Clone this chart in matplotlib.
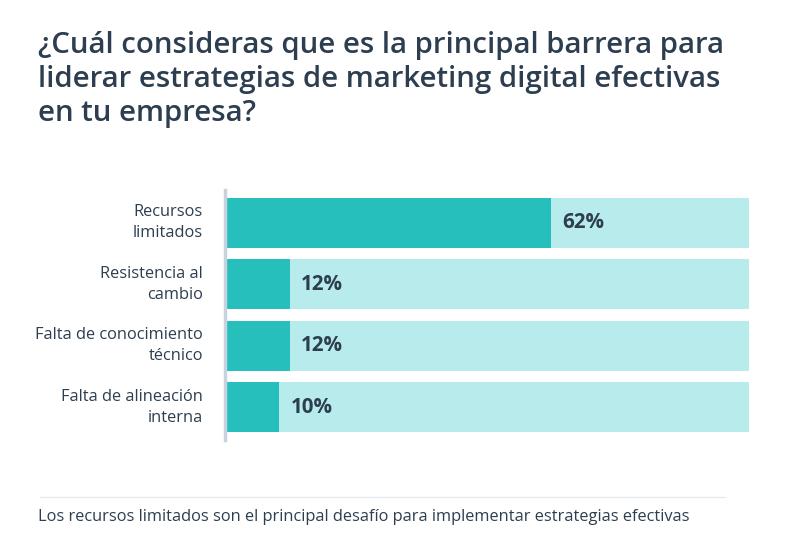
import matplotlib
matplotlib.use("Agg")
import matplotlib.pyplot as plt
from matplotlib.transforms import blended_transform_factory

categories = ["Recursos\nlimitados", "Resistencia al\ncambio",
              "Falta de conocimiento\ntécnico", "Falta de alineación\ninterna"]
values = [62, 12, 12, 10]
labels = ["62%", "12%", "12%", "10%"]
total = 100

title = "¿Cuál consideras que es la principal barrera para\nliderar estrategias de marketing digital efectivas\nen tu empresa?"
footer = "Los recursos limitados son el principal desafío para implementar estrategias efectivas"

W, H = 812, 542
fig = plt.figure(figsize=(W / 100, H / 100), dpi=100)
fig.patch.set_facecolor("white")
renderer = fig.canvas.get_renderer()

FONT = "Open Sans"
dark = "#26bfbc"
light = "#b8ecec"
text_col = "#2d3e50"


def fit(t, target_px):
    bb = t.get_window_extent(renderer)
    t.set_fontsize(t.get_fontsize() * target_px / bb.width)


ax = fig.add_axes([227 / W, 1 - 440 / H, (749 - 227) / W, (440 - 190) / H])
ypos = list(range(len(categories)))
ax.barh(ypos, [total] * len(values), height=0.81, color=light, linewidth=0)
ax.barh(ypos, values, height=0.81, color=dark, linewidth=0)
ax.set_xlim(0, total)
ax.set_ylim(len(categories) - 0.5 + 0.03, -0.5 - 0.03)

pct_texts = []
for y, v, lab in zip(ypos, values, labels):
    t = ax.text(v + 2.2, y, lab, va="center", ha="left", fontsize=13,
                fontweight="bold", color=text_col, family=FONT)
    pct_texts.append(t)
fit(pct_texts[0], 42)
for t in pct_texts[1:]:
    t.set_fontsize(pct_texts[0].get_fontsize())

trans = blended_transform_factory(fig.transFigure, ax.transData)
cat_texts = []
for y, c in zip(ypos, categories):
    t = fig.text(203 / W, y, c, ha="right", va="center", fontsize=10.5,
                 color=text_col, family=FONT, linespacing=1.45,
                 transform=trans)
    cat_texts.append(t)
fit(cat_texts[2], 169)
for t in cat_texts:
    t.set_fontsize(cat_texts[2].get_fontsize())

ax.set_yticks([])
ax.set_xticks([])
for s in ["top", "right", "bottom"]:
    ax.spines[s].set_visible(False)
ax.spines["left"].set_color("#c9d3df")
ax.spines["left"].set_linewidth(2.5)
ax.spines["left"].set_position(("outward", 1.5))

tt = fig.text(38 / W, 1 - 31 / H, title, ha="left", va="top", fontsize=19.5,
              fontweight="semibold", color=text_col, family=FONT,
              linespacing=1.22)
fit(tt, 690)

line_ax = fig.add_axes([0, 0, 1, 1], facecolor="none")
line_ax.set_xlim(0, W)
line_ax.set_ylim(H, 0)
line_ax.axis("off")
line_ax.plot([40, 725], [497, 497], color="#e6ebf0", linewidth=1)

ft = fig.text(38 / W, 1 - 517 / H, footer, ha="left", va="center",
              fontsize=10, color=text_col, family=FONT)
fit(ft, 654)

fig.savefig("out.png", dpi=100, facecolor="white")
